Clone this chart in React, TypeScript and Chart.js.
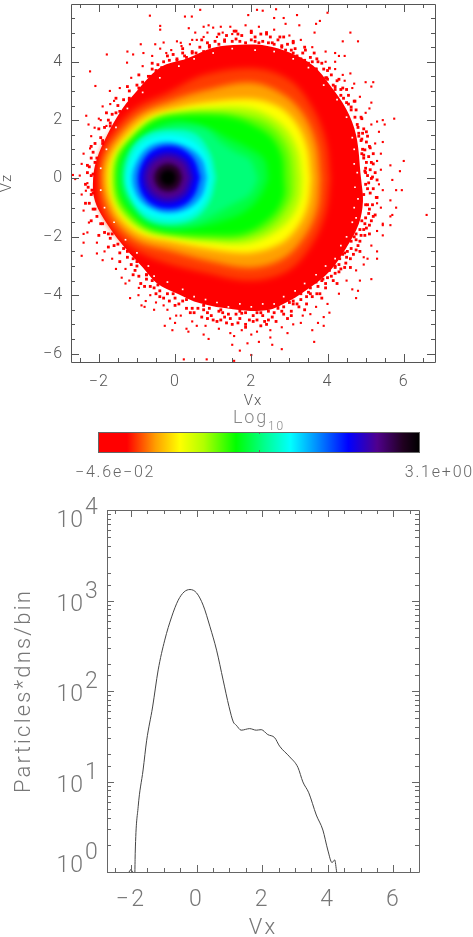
import React, { useEffect, useRef } from "react";
import { Chart, registerables } from "chart.js";

// ---- heat map: iso-density contours, as [Vx, Vz]
type P = [number, number];
const contourRedEdge: P[] = [[4.88,0],[4.75,1.49],[4.49,2.38],[4.07,3.19],[3.62,3.87],[3.02,4.31],[2.39,4.55],[1.71,4.58],[1.0,4.48],[.31,4.11],[-.39,3.80],[-1.10,2.85],[-1.44,2.28],[-1.78,1.49],[-2.05,.68],[-2.15,0],[-2.10,-.78],[-1.71,-1.70],[-1.31,-2.38],[-.84,-3.06],[-.47,-3.6],[.05,-3.94],[.66,-4.28],[1.52,-4.48],[2.39,-4.52],[3.02,-4.18],[3.54,-3.74],[4.07,-3.16],[4.49,-2.38],[4.82,-1.56],[4.93,-.78],[4.88,0]];
const contourRedOrange: P[] = [[4.07,0],[3.96,1.26],[3.60,2.44],[3.02,3.36],[2.10,3.77],[.79,3.56],[-.18,2.95],[-1.05,2.41],[-1.63,1.60],[-1.94,.85],[-2.02,.03],[-1.97,-.95],[-1.65,-1.73],[-1.13,-2.38],[-.26,-2.89],[.79,-3.23],[1.97,-3.50],[2.97,-3.16],[3.60,-2.24],[3.96,-1.12],[4.07,0]];
const contourOrange: P[] = [[3.81,0],[3.70,1.19],[3.36,2.21],[2.83,2.89],[1.97,3.29],[.79,3.02],[-.08,2.67],[-.92,2.21],[-1.52,1.43],[-1.84,.75],[-1.92,.03],[-1.84,-.75],[-1.55,-1.53],[-.97,-2.17],[-.13,-2.48],[.87,-2.82],[1.97,-3.06],[2.83,-2.75],[3.41,-1.97],[3.73,-1.05],[3.81,0]];
const contourYellow: P[] = [[3.57,0],[3.46,1.09],[3.15,1.94],[2.68,2.48],[1.97,2.72],[.84,2.62],[0,2.41],[-.73,2.11],[-1.36,1.36],[-1.70,.65],[-1.78,.03],[-1.70,-.68],[-1.42,-1.39],[-.87,-1.94],[-.08,-2.17],[.87,-2.41],[1.92,-2.55],[2.76,-2.24],[3.23,-1.63],[3.49,-.88],[3.57,0]];
const contourLime: P[] = [[3.33,0],[3.23,.92],[2.94,1.66],[2.49,2.14],[1.97,2.41],[1.23,2.45],[.08,2.28],[-.66,1.94],[-1.29,1.22],[-1.58,.65],[-1.65,.03],[-1.57,-.75],[-1.26,-1.36],[-.77,-1.80],[-.08,-2.0],[.87,-2.17],[1.84,-2.24],[2.55,-1.90],[3.02,-1.39],[3.28,-.71],[3.33,0]];
const contourLimeGreen: P[] = [[3.10,0],[3.02,.85],[2.76,1.5],[2.35,1.95],[1.85,2.15],[1.25,2.25],[.1,2.2],[-.6,1.98],[-1.18,1.3],[-1.5,.75],[-1.59,.03],[-1.52,-.73],[-1.22,-1.3],[-.74,-1.75],[-.05,-1.94],[.85,-2.06],[1.8,-2.04],[2.55,-1.6],[3.05,-.7],[3.10,0]];
const contourGreen: P[] = [[2.86,0],[2.81,.75],[2.55,1.39],[2.10,1.80],[1.57,2.07],[1.05,2.17],[0,2.14],[-.58,1.94],[-1.13,1.32],[-1.44,.75],[-1.52,.03],[-1.44,-.68],[-1.15,-1.22],[-.71,-1.66],[0,-1.87],[.87,-1.94],[1.84,-1.87],[2.55,-1.29],[2.86,-.61],[2.86,0]];
const contourGreenSpring: P[] = [[2.44,0],[2.34,.65],[1.92,1.05],[1.44,1.36],[.92,1.70],[.08,1.97],[-.52,1.77],[-1.05,1.26],[-1.36,.68],[-1.44,.03],[-1.36,-.54],[-1.13,-1.05],[-.73,-1.53],[-.13,-1.73],[.60,-1.66],[1.23,-1.46],[1.84,-1.12],[2.23,-.61],[2.44,0]];
const contourSpring: P[] = [[2.18,0],[1.97,.65],[1.57,.92],[1.18,1.26],[.79,1.70],[.08,1.80],[-.52,1.60],[-1.0,1.19],[-1.31,.58],[-1.38,.03],[-1.31,-.51],[-1.05,-1.02],[-.66,-1.46],[-.13,-1.63],[.55,-1.53],[1.08,-1.19],[1.57,-.85],[1.97,-.54],[2.18,0]];
const contourSpringCyan: P[] = [[1.08,.03],[.92,.88],[.52,1.53],[-.13,1.66],[-.76,1.49],[-1.18,.92],[-1.33,.03],[-1.18,-.65],[-.76,-1.36],[-.13,-1.56],[.52,-1.36],[.92,-.78],[1.08,.03]];
const contourCyan: P[] = [[.94,.03],[.81,.75],[.45,1.29],[-.13,1.49],[-.71,1.32],[-1.08,.85],[-1.26,.03],[-1.10,-.71],[-.71,-1.22],[-.13,-1.39],[.45,-1.22],[.81,-.68],[.94,.03]];
const contourAzure: P[] = [[.84,.03],[.71,.65],[.37,1.05],[-.16,1.26],[-.66,1.12],[-.97,.68],[-1.13,.03],[-1.0,-.61],[-.66,-1.02],[-.16,-1.19],[.37,-1.02],[.71,-.58],[.84,.03]];
const contourBlue: P[] = [[.66,.03],[.52,.61],[.24,.98],[-.16,1.12],[-.58,.98],[-.84,.61],[-.97,.03],[-.87,-.54],[-.58,-.92],[-.16,-1.05],[.24,-.92],[.52,-.54],[.66,.03]];
const contourIndigo: P[] = [[.50,.03],[.30,.65],[-.18,.91],[-.66,.65],[-.86,.03],[-.66,-.59],[-.18,-.85],[.30,-.59],[.50,.03]];
const contourPurple: P[] = [[.37,.03],[.21,.53],[-.18,.74],[-.57,.53],[-.73,.03],[-.57,-.47],[-.18,-.68],[.21,-.47],[.37,.03]];
const contourDark: P[] = [[.19,.03],[.08,.37],[-.18,.51],[-.44,.37],[-.55,.03],[-.44,-.31],[-.18,-.45],[.08,-.31],[.19,.03]];
const contourBlack: P[] = [[.03,.03],[-.03,.22],[-.18,.30],[-.33,.22],[-.39,.03],[-.33,-.16],[-.18,-.24],[-.03,-.16],[.03,.03]];

const contours: P[][] = [contourRedEdge, contourRedOrange, contourOrange, contourYellow, contourLime, contourLimeGreen, contourGreen, contourGreenSpring, contourSpring, contourSpringCyan, contourCyan, contourAzure, contourBlue, contourIndigo, contourPurple, contourDark, contourBlack];
const contourColors = ["#ff0000","#ff3c00","#ffa000","#ffff00","#b0ff00","#60ff00","#00ff00","#00ff40","#00ff78","#00ffd0","#00ffff","#0090ff","#0000ff","#2800c0","#50008c","#280028","#000000"];
const contourBlur = [0,3,3,3,3,3,3,3,3,2,2,2,2,2,2,2,2];

// low-count bins in the dense band just outside the solid red edge
const denseBand: P[] = [[5.15,0],[4.98,.25],[5.2,.5],[4.95,.8],[5.12,1.05],[4.9,1.35],[5.02,1.6],[4.78,1.85],[4.88,2.1],[4.62,2.35],[4.72,2.65],[4.42,2.75],[4.5,3.05],[4.2,3.05],[4.3,3.4],[3.98,3.45],[4.05,3.78],[3.7,3.75],[3.72,4.1],[3.4,4.05],[3.42,4.4],[3.1,4.3],[3.1,4.65],[2.8,4.5],[2.75,4.85],[2.45,4.65],[2.4,5.0],[2.1,4.7],[2.0,5.05],[1.7,4.7],[1.6,5.05],[1.3,4.7],[1.15,4.95],[.9,4.55],[.7,4.75],[.45,4.3],[.2,4.45],[.05,4.05],[-.2,4.2],[-.35,3.8],[-.6,3.95],[-.65,3.5],[-.95,3.55],[-.95,3.1],[-1.25,3.15],[-1.2,2.7],[-1.55,2.75],[-1.45,2.3],[-1.8,2.25],[-1.7,1.8],[-2.0,1.7],[-1.9,1.3],[-2.2,1.1],[-2.05,.7],[-2.3,.45],[-2.15,.15],[-2.35,-.2],[-2.15,-.5],[-2.35,-.85],[-2.1,-1.05],[-2.2,-1.45],[-1.9,-1.55],[-2.0,-1.95],[-1.65,-1.9],[-1.75,-2.35],[-1.35,-2.4],[-1.45,-2.85],[-1.0,-2.85],[-1.1,-3.3],[-.75,-3.3],[-.8,-3.7],[-.45,-3.65],[-.4,-4.05],[-.05,-3.95],[0,-4.35],[.3,-4.15],[.4,-4.6],[.75,-4.35],[.85,-4.8],[1.2,-4.5],[1.35,-4.95],[1.7,-4.55],[1.85,-5.0],[2.25,-4.6],[2.4,-5.0],[2.7,-4.45],[2.95,-4.8],[3.1,-4.2],[3.4,-4.5],[3.5,-3.9],[3.85,-4.1],[3.85,-3.5],[4.25,-3.6],[4.2,-3.05],[4.6,-3.05],[4.45,-2.55],[4.85,-2.5],[4.7,-2.0],[5.1,-1.9],[4.9,-1.45],[5.25,-1.25],[5.0,-.9],[5.3,-.65],[5.05,-.35],
[-1.35,2.7],[-1.5,2.5],[-1.2,3.0],[-1.0,3.2],[-.85,3.3],[-.7,3.5],[-.9,3.05],[-.6,3.75],[-.45,3.9],[-.3,4.0],[-1.65,2.2],[-1.75,2.0],[-1.85,1.75],[-1.95,1.4],[-2.1,1.2],[-2.15,.9],[-2.2,.7],[-2.25,.4],[-2.3,.2],[-2.28,-.3],[-2.2,-.55],[-2.25,-.85],[-2.15,-1.05],[-2.05,-1.3],[-1.95,-1.55],[-1.85,-1.85],[-1.7,-2.05],[-1.6,-2.3],[-1.45,-2.55],[-1.25,-2.7],[-1.15,-2.95],[-1.05,-3.15],[-.95,-3.35],[-.75,-3.45],[-.65,-3.7],[-.9,-3.6],[-.5,-3.95],[-.3,-4.1],[-.15,-4.2],[.1,-4.3],[.3,-4.45],[.5,-4.6],[.7,-4.75],[.95,-4.7],[1.1,-4.9],[1.3,-4.75],[1.5,-5.0],[1.7,-4.8],[1.85,-5.1],[2.05,-4.9],[2.25,-5.05],[2.45,-4.85],[2.65,-4.9],[2.85,-4.65],[3.05,-4.55],[3.25,-4.4],[3.45,-4.3],[3.6,-4.05],[3.8,-3.95],[3.95,-3.6],[4.15,-3.5],[4.3,-3.2],[4.45,-3.05],[4.6,-2.75],[4.75,-2.45],[4.85,-2.15],[4.98,-1.95],[5.1,-1.6],[5.2,-1.3],[5.1,-1.05],[5.28,-.65],[5.2,-.35],[5.3,-.05],[5.25,.2],[5.15,.55],[5.2,.85],[5.1,1.1],[5.05,1.45],[4.95,1.7],[4.9,2.05],[4.75,2.35],[4.7,2.65],[4.55,2.85],[4.4,3.1],[4.25,3.35],[4.1,3.55],[3.9,3.75],[3.75,4.0],[3.55,4.15],[3.35,4.3],[3.15,4.45],[2.95,4.6],[2.7,4.75],[2.5,4.85],[2.25,4.95],[2.0,5.0],[1.75,4.9],[1.55,5.05],[1.3,4.75],[1.05,4.7],[.85,4.65],[.65,4.5],[.45,4.35],[.25,4.2],[.05,4.1],[-.15,4.05],
[5.0,-.2],[5.05,.1],[5.0,.35],[4.95,.7],[4.92,1.0],[5.0,-1.35],[4.95,-1.75],[4.75,-2.1],[4.62,-2.4],[4.5,-2.7],[4.3,-2.95],[4.2,-3.25],[4.0,-3.4],[3.75,-3.7],[3.55,-3.95],[3.3,-4.15],[3.1,-4.3],[2.85,-4.4],[2.6,-4.6],[2.3,-4.7],[2.05,-4.7],[1.75,-4.62],[1.4,-4.65],[1.15,-4.55],[.9,-4.45],[4.8,1.75],[4.72,2.1],[4.55,2.55],[4.35,2.85],[4.15,3.2],[3.95,3.45],[3.7,3.75],[3.5,3.95],[3.2,4.2],[2.9,4.4],[2.6,4.6],[2.3,4.7],[2.0,4.75],[1.6,4.78],[.9,4.5],
[4.95,-.55],[5.12,-.5],[5.08,-.15],[5.18,.05],[5.0,.2],[5.12,.3],[5.02,.55],[5.08,.75],[4.9,.85],[5.02,1.25],[4.88,1.3],[4.98,.98],[4.82,1.45],[4.92,1.55],[5.05,-.9],[5.18,-.9],[5.08,-1.2],[5.15,-1.45],[4.98,-1.55],[4.85,-1.75],[5.02,-1.7],[4.88,-1.95],[4.75,-1.9],[4.8,-2.3],[4.62,-2.15],[4.68,-2.6],[4.52,-2.5],
[4.4,-2.6],[4.48,-2.9],[4.32,-2.75],[4.2,-3.0],[4.35,-3.1],[4.1,-3.35],[4.05,-3.15],[3.88,-3.45],[3.95,-3.75],[3.7,-3.55],[3.72,-3.95],[3.55,-3.75],[3.45,-4.05],[3.3,-3.95],[3.2,-4.3],[3.0,-4.25],[3.05,-4.7],[2.8,-4.55],[2.7,-4.35],[2.55,-4.75],[2.45,-4.55],[2.35,-4.9],[2.15,-4.6],[2.15,-4.85],[1.95,-4.85],[1.85,-4.6],[1.65,-4.95],[1.6,-4.65],[1.45,-4.8],[1.25,-4.6],[1.2,-4.85],[1.0,-4.85],[.85,-4.6],[.75,-4.5],[.6,-4.45],[.45,-4.45],[.2,-4.2],[.0,-4.1],[-.2,-3.95],[-.4,-3.85],[-.55,-3.75],[-.75,-3.3],[-.6,-3.5],[-1.0,-3.0],[-1.1,-2.75],[-1.25,-2.5],[-1.5,-2.25],[-1.75,-1.9],
[.2,4.3],[.3,4.15],[.55,4.3],[.6,4.1],[.75,4.35],[.9,4.55],[1.15,4.6],[1.35,4.9],[1.5,4.7],[1.65,4.95],[1.85,4.65],[2.1,4.85],[2.2,4.65],[2.4,4.95],[2.55,4.65],[2.8,4.55],[2.85,4.85],[3.05,4.4],[3.1,4.7],[3.3,4.1],[3.4,4.5],[3.6,4.0],[3.65,4.3],[3.85,3.95],[4.0,3.4],[4.0,3.7],[4.2,3.15],[4.35,3.05],[4.5,2.6],[4.62,2.45],[4.82,1.55],[-.05,4.25],[-.5,3.7],[-.75,3.2],[-1.2,2.75],[-1.55,2.25],[-1.7,1.9],[-1.9,1.2],[-2.1,.55],[-2.2,.1],[-2.18,-.4]];

// isolated bins further out
const speckles: P[] = [[-.66,5.58],[-.39,5.23],[-.39,5.1],[-.52,4.6],[-.90,4.6],[-1.79,4.25],[-1.25,4.35],[-1.1,4.25],[-.83,4.3],[-2.23,3.67],[-1.26,3.97],[-2.09,3.17],[-1.71,3.0],[-1.6,2.66],[-1.9,2.47],[-2.33,2.15],[-2.0,2.05],[-2.27,1.85],[-2.11,1.74],[-1.8,1.8],[-2.23,1.03],[-2.45,.5],[-2.68,.12],[-2.62,-.02],[-2.3,-.16],[-2.34,-.42],[-2.26,-1.51],
[.26,5.55],[.44,5.55],[.66,5.78],[.75,5.2],[.88,5.25],[1.0,5.17],[.36,5.15],[.53,5.0],[.05,4.7],[-.3,4.66],[-.39,4.45],[-.23,4.3],[.17,4.54],[.39,4.6],[.57,4.75],[.75,4.85],[1.1,4.85],[1.25,5.0],[1.45,5.2],[1.5,4.95],
[1.92,5.6],[2.15,5.78],[2.3,5.75],[2.65,5.8],[2.6,5.5],[2.85,5.5],[2.9,5.3],[3.2,5.6],[4.0,5.68],[3.8,5.4],[3.7,5.3],[3.26,5.25],[3.66,5.0],[4.6,5.0],[4.4,4.7],[4.8,4.7],[4.2,4.3],[4.3,4.2],[4.45,4.2],[3.95,4.35],[4.2,4.0],[4.4,3.55],[4.6,3.6],[5.0,3.3],[5.2,3.3],[4.7,3.25],[5.15,3.15],[5.15,2.6],[5.1,2.4],[5.5,1.85],[5.75,2.05],[5.45,2.0],[5.3,1.95],[5.35,1.6],[5.45,1.25],[5.4,.85],[6.0,.6],[5.65,.45],[5.9,.25],[5.4,.3],[5.7,-.05],[5.8,-.4],[5.95,-.4],[5.45,-.4],[5.8,-1.0],[6.6,-1.25],[5.65,-.75],[5.3,-.85],[5.7,-1.25],[5.45,-1.6],
[5.65,-1.3],[5.45,-1.55],[5.65,-1.6],[5.45,-1.95],[5.3,-2.5],[5.3,-2.75],[5.05,-2.75],[4.95,-2.95],[4.85,-3.5],[5.15,-3.45],[4.8,-3.85],[4.65,-3.8],[4.75,-4.1],[4.05,-4.6],[3.9,-4.75],[3.9,-5.05],[3.55,-4.65],[3.75,-4.95],[3.6,-5.2],[3.65,-5.6],[3.3,-4.95],[2.95,-5.3],[2.55,-5.7],[2.8,-5.85],[2.5,-5.45],[2.2,-5.6],[1.9,-5.65],[2.0,-6.05],[1.7,-5.9],[2.0,-5.35],[1.55,-5.4],
[-2.45,-2.65],[-2.4,-1.9],[-2.4,-2.2],[-2.05,-2.57],[-1.9,-2.8],[-1.55,-3.1],[-1.4,-3.4],[-1.3,-3.6],[-1.18,-4.1],[-.96,-4.0],[-.77,-4.2],[-.88,-4.35],[-.8,-4.4],[-.5,-4.25],[-.27,-5.05],[0,-4.95],[-.13,-4.8],[-.07,-5.2],[.3,-5.15],[.35,-5.25],[.57,-5.05],[.75,-5.35],[.88,-5.5],[.23,-6.2],[.83,-6.2],[1.5,-5.7],[1.55,-6.25],[.03,-4.7],[-.3,-4.35],
[5.4,-1.0],[5.35,-.2],[5.3,.6],[5.25,1.2],[5.15,1.85],[5.0,2.25],[4.85,2.8],[4.65,3.1],[4.45,3.35],[4.2,3.75],[3.95,4.0],[3.6,4.5],[3.3,4.75],[3.0,4.9],[2.6,5.1],[2.2,5.2],[1.85,5.25],[1.2,5.2],[.85,5.0],[.45,4.75],[.15,4.65],[-.1,4.4],[-.6,4.2],[-.85,3.85],[-1.15,3.45],[-1.45,3.1],[-1.7,2.55],[-1.95,2.0],[-2.2,1.45],[-2.4,.85],[-2.5,.1],[-2.45,-.55],[-2.4,-1.1],[-2.3,-1.85],[-2.05,-2.2],[-1.85,-2.5],[-1.65,-2.75],[-1.3,-3.1],[-1.2,-3.5],[-.95,-3.75],[-.65,-4.0],[-.55,-4.5],[-.2,-4.5],[.15,-4.7],[.45,-4.9],[.8,-5.05],[1.15,-5.15],[1.45,-5.3],[1.75,-5.2],[2.15,-5.25],[2.5,-5.2],[2.8,-5.1],[3.1,-5.0],[3.35,-4.7],[3.7,-4.4],[4.0,-4.3],[4.3,-3.95],[4.5,-3.5],[4.75,-3.15],[4.95,-2.7],[5.15,-2.3],[5.3,-1.8]];

// empty bins just inside the red edge
const emptyBins: P[] = [[4.7,.5],[4.78,.2],[4.72,-.3],[4.8,-.7],[4.7,-1.0],[4.65,-1.5],[4.75,-1.35],[4.5,-2.0],[4.35,-2.3],[4.2,-2.75],[3.95,-3.0],[3.7,-3.3],[3.4,-3.6],[3.15,-3.85],[2.85,-4.05],[2.6,-4.3],[2.3,-4.3],[2.0,-4.4],[1.7,-4.3],[1.4,-4.4],[1.1,-4.25],[.8,-4.15],[.5,-4.05],[.2,-3.8],[-.2,-3.55],[-.55,-3.35],[-.7,-3.0],[-1.0,-2.55],[-1.3,-2.1],[-1.6,-1.5],[-1.85,-1.0],[-1.95,-.4],[-1.95,.35],[-1.8,1.0],[-1.55,1.75],[-1.25,2.4],[-.85,2.95],[-.4,3.45],[.1,3.85],[.5,4.1],[1.0,4.3],[1.5,4.45],[2.1,4.4],[2.6,4.35],[3.1,4.1],[3.5,3.8],[3.9,3.2],[4.25,2.7],[4.5,2.1],[4.65,1.4],[4.7,1.0]];

// ---- colour bar
const colorBarMin = -0.046;
const colorBarMax = 3.1;
const colorBarLabels = ["\u22124.6e\u221202", "3.1e+00"];
const colorBarStops: [number, string][] = [[0,"#ff0000"],[.09,"#ff0000"],[.18,"#ffa000"],[.255,"#ffff00"],[.33,"#b0ff00"],[.43,"#00ff00"],[.52,"#00ff90"],[.60,"#00ffff"],[.68,"#0090ff"],[.78,"#0000ff"],[.87,"#50008c"],[.95,"#200020"],[1,"#000000"]];

// ---- 1-D profile
const profileVx = [-1.88,-1.87,-1.78,-1.63,-1.52,-1.34,-1.17,-.97,-.76,-.56,-.38,-.20,0,.20,.41,.61,.81,.99,1.12,1.21,1.36,1.62,1.82,1.97,2.17,2.38,2.53,2.84,3.09,3.24,3.42,3.65,3.85,4.0,4.13,4.21,4.27];
const profileCounts = [1.0,1.61,5.26,13.4,28.6,66.6,171,365,659,1007,1244,1322,1213,888,512,283,132,67,45.5,41.9,36.9,38.4,36.9,37.4,33,30.5,24.6,18.7,14.3,9.9,7.5,4.26,2.91,1.75,1.27,1.36,1.0];
const lowBumpVx = [-2.06,-2.0,-1.95];
const lowBumpCounts = [1.0,1.07,1.0];
const logExponents = ["0","1","2","3","4"];

const xAxisTop = { min: -2.73, max: 6.82, title: "Vx" };
const yAxisTop = { min: -6.29, max: 5.98, title: "Vz" };
const xAxisBottom = { min: -2.73, max: 6.78, title: "Vx" };
const yAxisBottom = { min: 1, max: 10000, title: "Particles*dns/bin" };
const FONT = "Roboto";

const signed = (v: number) => (v < 0 ? "\u2212" + Math.abs(v) : String(v));

Chart.register(
  {
    id: "heatBlur",
    beforeDatasetDraw(chart: any, args: any) {
      const px = chart.data.datasets[args.index].blurPx;
      if (px) {
        chart.ctx.save();
        chart.ctx.filter = `blur(${px}px)`;
      }
    },
    afterDatasetDraw(chart: any, args: any) {
      if (chart.data.datasets[args.index].blurPx) chart.ctx.restore();
    },
  } as any,
  ...registerables
);

function frame(color: string, majorLen: number, minorLen: number, spacing: string, isMajorX: (v: number) => boolean, isMajorY: (v: number) => boolean) {
  return {
    id: "frame",
    beforeDraw(chart: any) {
      (chart.ctx as any).letterSpacing = spacing;
    },
    afterDraw(chart: any) {
      const { ctx, chartArea: a, scales } = chart;
      ctx.save();
      ctx.strokeStyle = color;
      ctx.lineWidth = 1;
      ctx.beginPath();
      ctx.rect(a.left + 0.5, a.top + 0.5, a.right - a.left, a.bottom - a.top);
      for (const t of scales.x.ticks) {
        if (t.value < scales.x.min || t.value > scales.x.max) continue;
        const x = Math.round(scales.x.getPixelForValue(t.value)) + 0.5;
        const len = isMajorX(t.value) ? majorLen : minorLen;
        ctx.moveTo(x, a.bottom);
        ctx.lineTo(x, a.bottom - len);
        ctx.moveTo(x, a.top);
        ctx.lineTo(x, a.top + len);
      }
      for (const t of scales.y.ticks) {
        if (t.value < scales.y.min || t.value > scales.y.max) continue;
        const y = Math.round(scales.y.getPixelForValue(t.value)) + 0.5;
        const len = isMajorY(t.value) ? majorLen : minorLen;
        ctx.moveTo(a.left, y);
        ctx.lineTo(a.left + len, y);
        ctx.moveTo(a.right, y);
        ctx.lineTo(a.right - len, y);
      }
      ctx.stroke();
      ctx.restore();
    },
  };
}

const isEven = (v: number) => Math.abs(v / 2 - Math.round(v / 2)) < 1e-6;
const isDecade = (v: number) => Math.abs(Math.log10(v) - Math.round(Math.log10(v))) < 1e-6;
const noPadX = (height: number) => (s: any) => { s.height = height; s.paddingLeft = 0; s.paddingRight = 0; };
const noPadY = (width: number) => (s: any) => { s.width = width; s.paddingTop = 0; s.paddingBottom = 0; };

function binDataset(list: P[], radius: number, color: string, order: number) {
  return {
    data: list.map(([x, y]) => ({ x, y })),
    pointStyle: "rect",
    pointRadius: radius,
    pointBorderWidth: 0,
    pointBackgroundColor: color,
    showLine: false,
    order,
  };
}

function makeTop(c: HTMLCanvasElement) {
  const datasets: any[] = [
    binDataset(speckles, 1.5, "#ff0000", 0),
    binDataset(denseBand, 2, "#ff0000", 1),
    binDataset(emptyBins, 1.2, "#ffffff", 0),
    ...contours.map((pts, i) => ({
      data: pts.map(([x, y]) => ({ x, y })),
      showLine: true,
      fill: "shape",
      backgroundColor: contourColors[i],
      borderWidth: 0,
      pointRadius: 0,
      tension: 0.35,
      blurPx: contourBlur[i],
      order: 3 + contours.length - i,
    })),
  ];
  return new Chart(c, {
    type: "scatter",
    data: { datasets },
    options: {
      animation: false,
      responsive: false,
      devicePixelRatio: 1,
      layout: { padding: { top: 1, right: 38, left: 0, bottom: 0 } },
      plugins: { legend: { display: false }, tooltip: { enabled: false } },
      scales: {
        x: {
          type: "linear",
          min: xAxisTop.min,
          max: xAxisTop.max,
          grid: { display: false, drawTicks: false },
          border: { display: false },
          afterFit: noPadX(48),
          title: { display: true, text: xAxisTop.title, color: "#555", font: { family: FONT, size: 15, weight: "300", lineHeight: 1.2 }, padding: 0 },
          ticks: {
            stepSize: 0.5, includeBounds: false, autoSkip: false, maxRotation: 0, padding: 10, color: "#555",
            font: { family: FONT, size: 16, weight: "300" },
            callback: (v: any) => (isEven(v) ? signed(v) : ""),
          },
        },
        y: {
          type: "linear",
          min: yAxisTop.min,
          max: yAxisTop.max,
          grid: { display: false, drawTicks: false },
          border: { display: false },
          afterFit: noPadY(71),
          title: { display: true, text: yAxisTop.title, color: "#555", font: { family: FONT, size: 15, weight: "300", lineHeight: 1 }, padding: 0 },
          ticks: {
            stepSize: 0.5, includeBounds: false, autoSkip: false, padding: 8, color: "#555",
            font: { family: FONT, size: 16, weight: "300" },
            callback: (v: any) => (isEven(v) ? signed(v) : ""),
          },
        },
      },
    } as any,
    plugins: [frame("#555", 8, 4, "1px", isEven, isEven)],
  });
}

function makeBar(c: HTMLCanvasElement) {
  return new Chart(c, {
    type: "bar",
    data: {
      labels: ["Log10"],
      datasets: [
        {
          data: [[colorBarMin, colorBarMax]] as any,
          barPercentage: 1,
          categoryPercentage: 1,
          borderWidth: 0,
          backgroundColor: (ctx: any) => {
            const a = ctx.chart.chartArea;
            if (!a) return "#ff0000";
            const g = ctx.chart.ctx.createLinearGradient(a.left, 0, a.right, 0);
            colorBarStops.forEach(([t, col]) => g.addColorStop(t, col));
            return g;
          },
        },
      ],
    },
    options: {
      indexAxis: "y",
      animation: false,
      responsive: false,
      devicePixelRatio: 1,
      layout: { padding: { left: 98, right: 54, top: 27, bottom: 33 } },
      plugins: { legend: { display: false }, tooltip: { enabled: false } },
      scales: {
        x: { type: "linear", display: false, min: colorBarMin, max: colorBarMax },
        y: { type: "category", display: false },
      },
    } as any,
    plugins: [
      {
        id: "barFrame",
        afterDraw(chart: any) {
          const { ctx, chartArea: a } = chart;
          ctx.save();
          (ctx as any).letterSpacing = "1.8px";
          ctx.strokeStyle = "#666";
          ctx.lineWidth = 1;
          ctx.strokeRect(a.left + 0.5, a.top + 0.5, a.right - a.left, a.bottom - a.top);
          const mid = Math.round((a.left + a.right) / 2) + 0.5;
          ctx.beginPath();
          ctx.moveTo(mid, a.top);
          ctx.lineTo(mid, a.top + 2);
          ctx.moveTo(mid, a.bottom);
          ctx.lineTo(mid, a.bottom - 2);
          ctx.stroke();
          ctx.fillStyle = "#666";
          ctx.font = `300 16px ${FONT}`;
          ctx.textBaseline = "alphabetic";
          ctx.textAlign = "left";
          ctx.fillText(colorBarLabels[0], 75, 72);
          ctx.textAlign = "right";
          ctx.fillText(colorBarLabels[1], 474, 72);
          ctx.textAlign = "left";
          ctx.fillStyle = "#888";
          ctx.font = `300 18px ${FONT}`;
          ctx.fillText("Log", 233, 18);
          ctx.font = `300 12px ${FONT}`;
          ctx.fillText("10", 268, 25);
          ctx.restore();
        },
      },
    ],
  });
}

function makeBottom(c: HTMLCanvasElement) {
  return new Chart(c, {
    type: "scatter",
    data: {
      datasets: [
        {
          data: profileVx.map((x, i) => ({ x, y: profileCounts[i] })),
          showLine: true,
          borderColor: "#444",
          borderWidth: 1,
          pointRadius: 0,
          cubicInterpolationMode: "monotone",
        },
        {
          data: lowBumpVx.map((x, i) => ({ x, y: lowBumpCounts[i] })),
          showLine: true,
          borderColor: "#444",
          borderWidth: 1,
          pointRadius: 0,
        },
      ] as any,
    },
    options: {
      animation: false,
      responsive: false,
      devicePixelRatio: 1,
      layout: { padding: { top: 25, right: 54, left: 0, bottom: 0 } },
      plugins: { legend: { display: false }, tooltip: { enabled: false } },
      scales: {
        x: {
          type: "linear",
          min: xAxisBottom.min,
          max: xAxisBottom.max,
          grid: { display: false, drawTicks: false },
          border: { display: false },
          afterFit: noPadX(65),
          title: { display: true, text: xAxisBottom.title, color: "#777", font: { family: FONT, size: 22, weight: "300", lineHeight: 0.8 }, padding: 0 },
          ticks: {
            stepSize: 0.5, includeBounds: false, autoSkip: false, maxRotation: 0, padding: 14, color: "#777",
            font: { family: FONT, size: 23, weight: "300" },
            callback: (v: any) => (isEven(v) ? signed(v) : ""),
          },
        },
        y: {
          type: "logarithmic",
          min: yAxisBottom.min,
          max: yAxisBottom.max,
          grid: { display: false, drawTicks: false },
          border: { display: false },
          afterFit: noPadY(107),
          title: { display: true, text: yAxisBottom.title, color: "#777", font: { family: FONT, size: 22, weight: "300" }, padding: { top: 11, bottom: 0 } },
          ticks: { display: true, autoSkip: false, color: "rgba(0,0,0,0)", font: { size: 1 }, callback: () => "" },
        },
      },
    } as any,
    plugins: [
      frame("#666", 7, 4, "2.2px", isEven, isDecade),
      {
        id: "logLabels",
        afterDraw(chart: any) {
          const { ctx, scales } = chart;
          ctx.save();
          (ctx as any).letterSpacing = "1px";
          ctx.fillStyle = "#777";
          ctx.font = `300 23px ${FONT}`;
          ctx.textBaseline = "alphabetic";
          logExponents.forEach((e, i) => {
            const y = scales.y.getPixelForValue(Math.pow(10, Number(e)));
            const shift = i === 0 ? 0 : i === logExponents.length - 1 ? 17 : 10;
            ctx.textAlign = "right";
            ctx.fillText("10", 84, y + shift);
            ctx.textAlign = "left";
            ctx.fillText(e, 85, y + shift - 13);
          });
          ctx.restore();
        },
      },
    ],
  });
}

export default function App() {
  const topRef = useRef<HTMLCanvasElement>(null);
  const barRef = useRef<HTMLCanvasElement>(null);
  const botRef = useRef<HTMLCanvasElement>(null);
  useEffect(() => {
    const charts = [makeTop(topRef.current!), makeBar(barRef.current!), makeBottom(botRef.current!)];
    return () => charts.forEach((c) => c.destroy());
  }, []);
  const abs = (top: number): React.CSSProperties => ({ position: "absolute", left: 0, top, display: "block" });
  return (
    <div style={{ position: "fixed", left: 0, top: 0, width: 473, height: 937, overflow: "hidden", background: "#fff" }}>
      <canvas ref={topRef} width={473} height={410} style={abs(0)} />
      <canvas ref={barRef} width={473} height={80} style={abs(405)} />
      <canvas ref={botRef} width={473} height={452} style={abs(485)} />
    </div>
  );
}
